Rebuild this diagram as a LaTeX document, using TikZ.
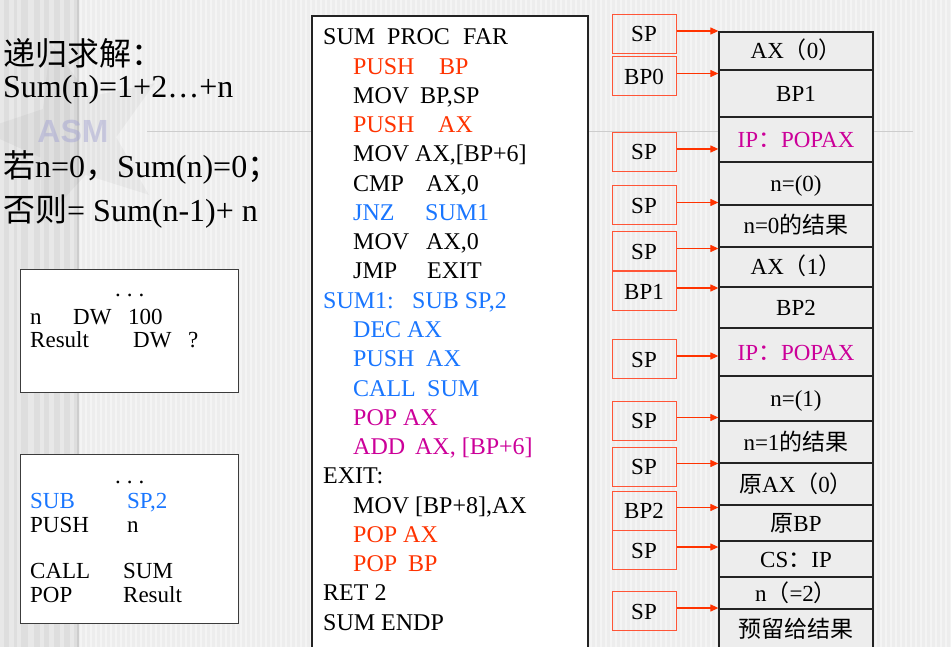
\documentclass[tikz,border=0pt]{standalone}
\usepackage{fontspec}
\setmainfont{Liberation Serif}
\newfontfamily\cjk{Noto Sans CJK SC}
\newfontfamily\wmfont{Liberation Sans}
\usetikzlibrary{arrows.meta,shapes.geometric}
\definecolor{bg}{RGB}{237,237,237}
\definecolor{stripe}{RGB}{244,244,244}
\definecolor{band}{RGB}{222,222,222}
\definecolor{bandl}{RGB}{232,232,232}
\definecolor{gline}{RGB}{205,205,205}
\definecolor{redc}{RGB}{255,51,0}
\definecolor{bluec}{RGB}{25,118,255}
\definecolor{magc}{RGB}{204,0,153}
\definecolor{ptrc}{RGB}{255,85,55}
\definecolor{cellc}{RGB}{35,35,35}
\definecolor{boxc}{RGB}{60,60,60}
\definecolor{wmc}{RGB}{160,160,210}
\newcommand\mkcol[2]{\makebox[#1][l]{#2}}
\begin{document}
\begin{tikzpicture}[x=1pt,y=-1pt,
  code/.style={anchor=base west, inner sep=0pt, font=\fontsize{24}{28}\selectfont},
  lt/.style={anchor=base west, inner sep=0pt, font=\fontsize{32}{36}\selectfont},
  bt/.style={anchor=base west, inner sep=0pt, font=\fontsize{23}{27}\selectfont},
  cell/.style={draw=cellc, line width=1.3pt, fill=bg, minimum width=154pt, inner sep=0pt,
    text height=16pt, text depth=0pt, font=\fontsize{23}{27}\selectfont},
  ptr/.style={draw=ptrc, line width=1pt, minimum width=64pt, minimum height=39pt, inner sep=0pt,
    text height=16pt, text depth=0pt, font=\fontsize{23}{27}\selectfont},
  arr/.style={draw=redc, line width=1.2pt, -{Triangle[length=8pt,width=7pt]}},
  wbox/.style={draw=boxc, fill=white, line width=1pt}
]
\useasboundingbox (0,0) rectangle (951,647);
\clip (0,0) rectangle (951,647);
% background
\fill[bg] (0,0) rectangle (951,647);
\foreach \x in {80,85,...,950} \fill[stripe] (\x,0) rectangle ++(2,647);
\fill[band] (0,0) rectangle (78,647);
\foreach \x/\w in {0/4,9/5,17/4,28/6,40/4,49/5,60/4,70/4} \fill[bandl] (\x,0) rectangle ++(\w,647);
\draw[gline, line width=1.5pt] (78,0) -- (78,647);
\draw[gline, line width=1pt] (147,132) -- (913,132);
% watermark
\node[star, star points=5, star point ratio=2.3, minimum size=190pt, fill=black, opacity=0.035, inner sep=0pt, rotate=15] (wmstar) at (75,135) {};
\node[font=\wmfont\bfseries\fontsize{32}{32}\selectfont, text=wmc, opacity=0.45, inner sep=0pt] (asm) at (73,131) {ASM};

% left text
\node[lt] (t1) at (3,66) {\cjk 递归求解：};
\node[lt] (t2) at (3,98) {Sum(n)=1+2…+n};
\node[lt] (t3) at (3,178) {{\cjk 若}n=0{\cjk ，}Sum(n)=0{\cjk ；}};
\node[lt] (t4) at (3,222) {{\cjk 否则}= Sum(n-1)+ n};

% left boxes
\draw[wbox] (20,270) rectangle (238,392);
\node[bt] (b1a) at (115,297) {.\hspace{6pt}.\hspace{6pt}.};
\node[bt] (b1b) at (30,324) {\mkcol{43pt}{n}\mkcol{55pt}{DW}100};
\node[bt] (b1c) at (30,347) {\mkcol{103pt}{Result}\mkcol{55pt}{DW}?};
\draw[wbox] (20,454) rectangle (238,623);
\node[bt] (b2a) at (115,483) {.\hspace{6pt}.\hspace{6pt}.};
\node[bt, text=bluec] (b2b) at (30,508) {\mkcol{97pt}{SUB}SP,2};
\node[bt] (b2c) at (30,532) {\mkcol{97pt}{PUSH}n};
\node[bt] (b2d) at (30,578) {\mkcol{93pt}{CALL}SUM};
\node[bt] (b2e) at (30,602) {\mkcol{93pt}{POP}Result};

% code box
\draw[wbox, draw=cellc, line width=1.2pt] (312,16) rectangle (588,665);
\node[code] (l0) at (323,45) {\mkcol{64pt}{SUM}\mkcol{76pt}{PROC}FAR};
\node[code, text=redc] (l1) at (353,74.25) {\mkcol{86pt}{PUSH}BP};
\node[code] (l2) at (353,103.5) {\mkcol{67pt}{MOV}BP,SP};
\node[code, text=redc] (l3) at (353,132.75) {\mkcol{85pt}{PUSH}AX};
\node[code] (l4) at (353,162) {MOV AX,[BP+6]};
\node[code] (l5) at (353,191.25) {\mkcol{73pt}{CMP}AX,0};
\node[code, text=bluec] (l6) at (353,220.5) {\mkcol{72pt}{JNZ}SUM1};
\node[code] (l7) at (353,249.75) {\mkcol{73pt}{MOV}AX,0};
\node[code] (l8) at (353,279) {\mkcol{74pt}{JMP}EXIT};
\node[code, text=bluec] (l9) at (323,308.25) {\mkcol{89pt}{SUM1:}SUB SP,2};
\node[code, text=bluec] (l10) at (353,337.5) {DEC AX};
\node[code, text=bluec] (l11) at (353,366.75) {\mkcol{73pt}{PUSH}AX};
\node[code, text=bluec] (l12) at (353,396) {\mkcol{74pt}{CALL}SUM};
\node[code, text=magc] (l13) at (353,425.25) {POP AX};
\node[code, text=magc] (l14) at (353,454.5) {\mkcol{62pt}{ADD}AX, [BP+6]};
\node[code] (l15) at (323,483.75) {EXIT:};
\node[code] (l16) at (353,513) {MOV [BP+8],AX};
\node[code, text=redc] (l17) at (353,542.25) {POP AX};
\node[code, text=redc] (l18) at (353,571.5) {\mkcol{55pt}{POP}BP};
\node[code] (l19) at (323,600.75) {RET 2};
\node[code] (l20) at (323,630) {SUM ENDP};

% stack cells
\node[cell, minimum height=38pt] (c1) at (796,51) {AX{\cjk （}0{\cjk ）}};
\node[cell, minimum height=47pt] (c2) at (796,93.5) {BP1};
\node[cell, minimum height=45pt, text=magc] (c3) at (796,139.5) {IP{\cjk ：}POPAX};
\node[cell, minimum height=43pt] (c4) at (796,183.5) {n=(0)};
\node[cell, minimum height=42pt] (c5) at (796,226) {n=0{\cjk 的结果}};
\node[cell, minimum height=40pt] (c6) at (796,267) {AX{\cjk （}1{\cjk ）}};
\node[cell, minimum height=41pt] (c7) at (796,307.5) {BP2};
\node[cell, minimum height=48pt, text=magc] (c8) at (796,352) {IP{\cjk ：}POPAX};
\node[cell, minimum height=45pt] (c9) at (796,398.5) {n=(1)};
\node[cell, minimum height=42pt] (c10) at (796,442) {n=1{\cjk 的结果}};
\node[cell, minimum height=42pt] (c11) at (796,484) {{\cjk 原}AX{\cjk （}0{\cjk ）}};
\node[cell, minimum height=36pt] (c12) at (796,523) {{\cjk 原}BP};
\node[cell, minimum height=36pt] (c13) at (796,559) {CS{\cjk ：}IP};
\node[cell, minimum height=32pt] (c14) at (796,593) {n{\cjk （}=2{\cjk ）}};
\node[cell, minimum height=40pt] (c15) at (796,629) {\cjk 预留给结果};

% pointer boxes
\node[ptr] (p1) at (644,34) {SP};
\node[ptr] (p2) at (644,76.5) {BP0};
\node[ptr] (p3) at (644,152) {SP};
\node[ptr] (p4) at (644,205.5) {SP};
\node[ptr] (p5) at (644,251.5) {SP};
\node[ptr] (p6) at (644,291) {BP1};
\node[ptr] (p7) at (644,359) {SP};
\node[ptr] (p8) at (644,420.5) {SP};
\node[ptr] (p9) at (644,466.5) {SP};
\node[ptr] (p10) at (644,510.5) {BP2};
\node[ptr] (p11) at (644,550) {SP};
\node[ptr] (p12) at (644,611) {SP};

% arrows
\foreach \p/\c in {p1/c1,p2/c2,p3/c3,p4/c4,p5/c6,p6/c7,p7/c8,p8/c9,p9/c11,p10/c12,p11/c13,p12/c15}
  \draw[arr] ([yshift=3pt]\p.east) -- ([yshift=3pt]\p.east -| \c.west);
\end{tikzpicture}
\end{document}
